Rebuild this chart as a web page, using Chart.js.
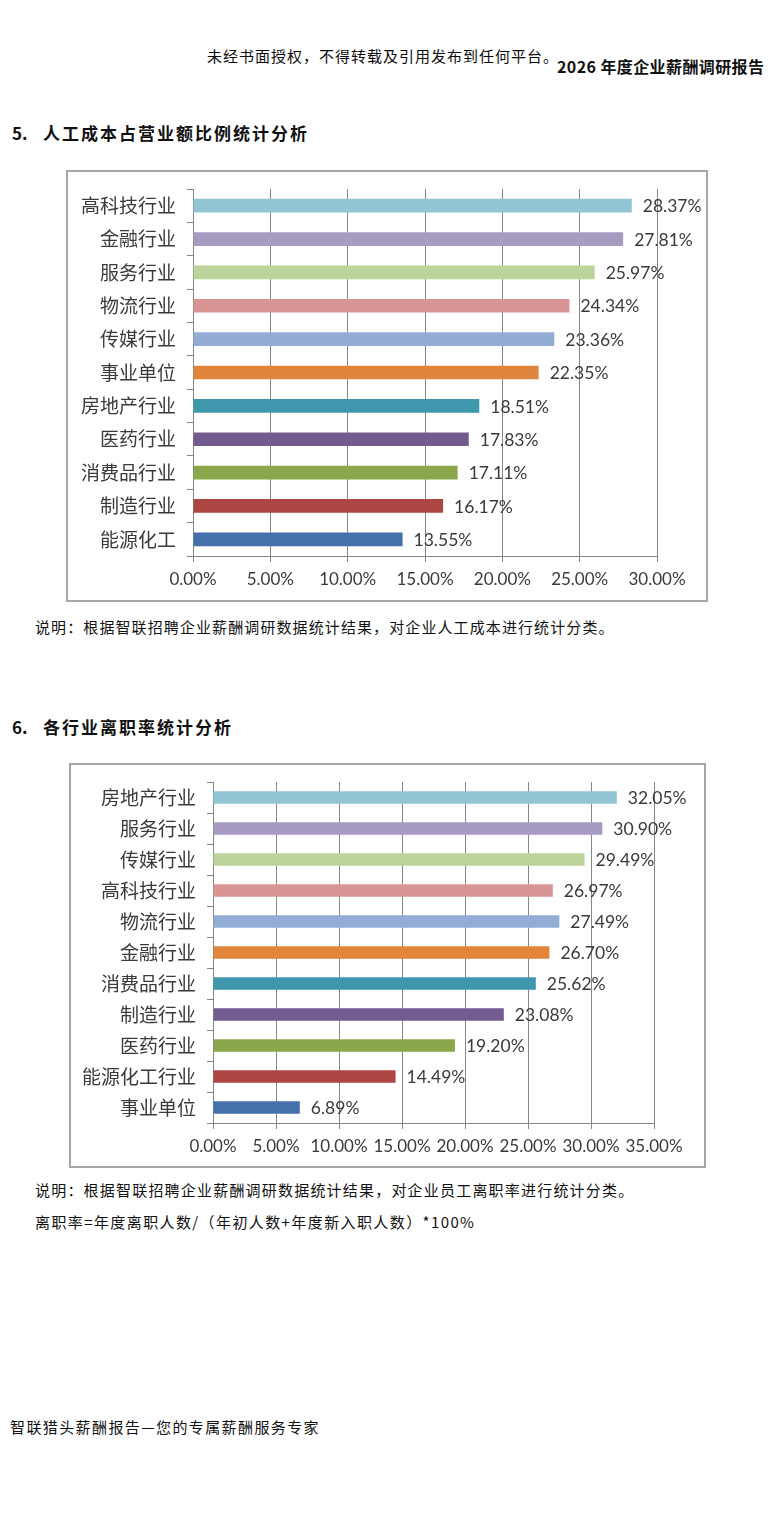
<!DOCTYPE html>
<html>
<head>
<meta charset="utf-8">
<script src="https://cdn.jsdelivr.net/npm/chart.js@4/dist/chart.umd.min.js"></script>
<style>
  html, body { margin: 0; padding: 0; background: #fff; }
  body { width: 770px; height: 1526px; position: relative; overflow: hidden;
         font-family: "Noto Sans CJK SC", "Noto Sans", sans-serif; color: #111; }
  .t { position: absolute; white-space: nowrap; line-height: 1; }
  .box { position: absolute; border: 2px solid #a6a6a6; box-sizing: border-box; background: #fff; }
  .box div { position: absolute; left: 0; top: 0; right: 0; bottom: 0; }
</style>
</head>
<body>

<div class="t" style="left:207px; top:48px; font-size:15px; letter-spacing:1px; color:#0a0a0a;">未经书面授权，不得转载及引用发布到任何平台。</div>
<div class="t" style="left:557px; top:58px; font-size:16px; font-weight:700; letter-spacing:0.4px;">2026 年度企业薪酬调研报告</div>

<div class="t" style="left:12px; top:124px; font-size:17px; font-weight:700;">5.</div>
<div class="t" style="left:43px; top:124px; font-size:17px; font-weight:700; letter-spacing:2px;">人工成本占营业额比例统计分析</div>

<div class="box" style="left:66px; top:170px; width:642px; height:432px;"><div><canvas id="costChart"></canvas></div></div>

<div class="t" style="left:35px; top:619px; font-size:15px; letter-spacing:1.1px; color:#111;">说明：根据智联招聘企业薪酬调研数据统计结果，对企业人工成本进行统计分类。</div>

<div class="t" style="left:12px; top:718px; font-size:17px; font-weight:700;">6.</div>
<div class="t" style="left:43px; top:718px; font-size:17px; font-weight:700; letter-spacing:2px;">各行业离职率统计分析</div>

<div class="box" style="left:69px; top:763px; width:637px; height:405px;"><div><canvas id="turnoverChart"></canvas></div></div>

<div class="t" style="left:35px; top:1182px; font-size:15px; letter-spacing:1.2px; color:#111;">说明：根据智联招聘企业薪酬调研数据统计结果，对企业员工离职率进行统计分类。</div>
<div class="t" style="left:35px; top:1214px; font-size:15px; letter-spacing:1.4px; color:#111;">离职率=年度离职人数/（年初人数+年度新入职人数）*100%</div>

<div class="t" style="left:10px; top:1419px; font-size:15px; letter-spacing:1.4px; color:#111;">智联猎头薪酬报告—您的专属薪酬服务专家</div>

<script>
// 5. 人工成本占营业额比例 (top to bottom)
var costLabels = ['高科技行业', '金融行业', '服务行业', '物流行业', '传媒行业', '事业单位',
                  '房地产行业', '医药行业', '消费品行业', '制造行业', '能源化工'];
var costValues = [28.37, 27.81, 25.97, 24.34, 23.36, 22.35, 18.51, 17.83, 17.11, 16.17, 13.55];

// 6. 各行业离职率 (top to bottom)
var turnoverLabels = ['房地产行业', '服务行业', '传媒行业', '高科技行业', '物流行业', '金融行业',
                      '消费品行业', '制造行业', '医药行业', '能源化工行业', '事业单位'];
var turnoverValues = [32.05, 30.90, 29.49, 26.97, 27.49, 26.70, 25.62, 23.08, 19.20, 14.49, 6.89];

var barColors = ['#92c4d4', '#a89bc2', '#bcd39b', '#d99594', '#93acd6', '#e0853b',
                 '#3e97ad', '#735a8f', '#8aa84b', '#ad4543', '#4570ab'];

var axisColor = '#868686';
var textColor = '#3a3a3a';

// value label at the end of each bar
var valueLabels = {
    id: 'valueLabels',
    afterDatasetsDraw: function(chart) {
        var ctx = chart.ctx;
        var meta = chart.getDatasetMeta(0);
        var data = chart.data.datasets[0].data;
        ctx.save();
        ctx.font = '17.5px Lato, "Liberation Sans", sans-serif';
        ctx.fillStyle = textColor;
        ctx.textAlign = 'left';
        ctx.textBaseline = 'middle';
        for (var i = 0; i < meta.data.length; i++) {
            var bar = meta.data[i];
            ctx.fillText(data[i].toFixed(2) + '%', bar.x + 11, bar.y + 1);
        }
        ctx.restore();
    }
};

function makeChart(canvasId, labels, values, maxValue, axisWidth, axisHeight, padTop, padRight) {
    return new Chart(document.getElementById(canvasId), {
        type: 'bar',
        data: {
            labels: labels,
            datasets: [{
                data: values,
                backgroundColor: barColors,
                borderWidth: 0,
                barPercentage: 0.41,
                categoryPercentage: 1
            }]
        },
        options: {
            indexAxis: 'y',
            responsive: true,
            maintainAspectRatio: false,
            animation: false,
            layout: { padding: { top: padTop, right: padRight, left: 0, bottom: 0 } },
            plugins: {
                legend: { display: false },
                tooltip: { enabled: false }
            },
            scales: {
                x: {
                    min: 0,
                    max: maxValue,
                    ticks: {
                        stepSize: 5,
                        autoSkip: false,
                        maxRotation: 0,
                        padding: 7,
                        color: textColor,
                        font: { family: 'Lato, "Liberation Sans", sans-serif', size: 17 },
                        callback: function(v) { return v.toFixed(2) + '%'; }
                    },
                    grid: { color: axisColor, lineWidth: 1, tickLength: 6 },
                    border: { color: axisColor, width: 1 },
                    afterFit: function(scale) {
                        scale.height = axisHeight;
                        scale.paddingLeft = 0; scale.paddingRight = 0;
                        scale.paddingTop = 0; scale.paddingBottom = 0;
                    }
                },
                y: {
                    ticks: {
                        padding: 11,
                        color: textColor,
                        font: { family: '"Noto Sans CJK SC", sans-serif', size: 19 }
                    },
                    grid: { drawOnChartArea: false, drawTicks: true, tickLength: 6, color: axisColor, offset: true },
                    border: { color: axisColor, width: 1 },
                    afterFit: function(scale) {
                        scale.width = axisWidth;
                        scale.paddingLeft = 0; scale.paddingRight = 0;
                        scale.paddingTop = 0; scale.paddingBottom = 0;
                    }
                }
            }
        },
        plugins: [valueLabels]
    });
}

var costChart = makeChart('costChart', costLabels, costValues, 30, 125, 44, 17, 49);
var turnoverChart = makeChart('turnoverChart', turnoverLabels, turnoverValues, 35, 142, 43, 17, 50);
</script>
</body>
</html>
